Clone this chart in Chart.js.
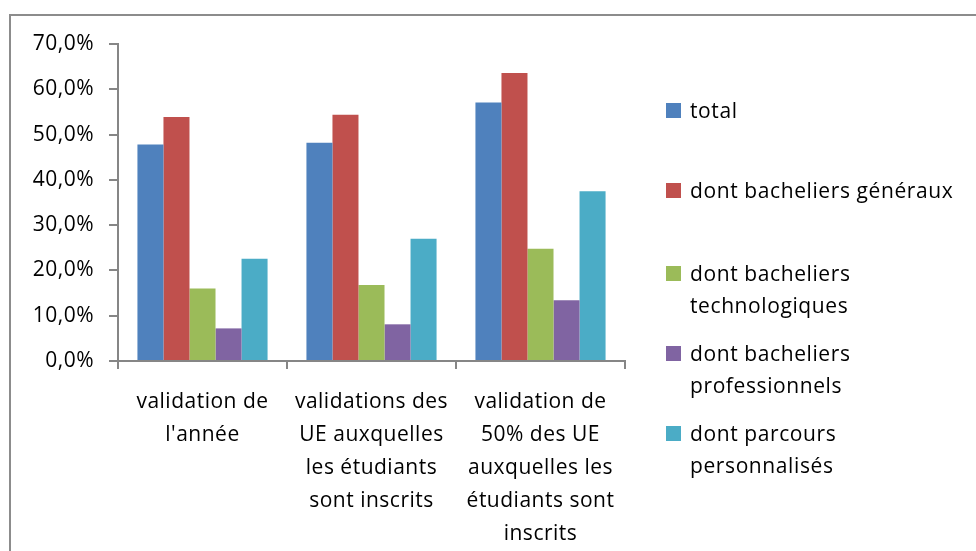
<!DOCTYPE html>
<html>
<head>
<meta charset="utf-8">
<script src="https://cdn.jsdelivr.net/npm/chart.js@4/dist/chart.umd.min.js"></script>
<style>
  body { margin: 0; background: #fff; }
  #wrap { position: relative; width: 976px; height: 551px; overflow: hidden; }
  #frame { position: absolute; left: 9px; top: 14px; width: 980px; height: 600px; border: 2px solid #8c8c8c; box-sizing: border-box; }
  #chart { position: absolute; left: 0; top: 0; }
  #legend { position: absolute; left: 666px; top: 0; font-family: "Open Sans", sans-serif; font-size: 21px; letter-spacing: 0.6px; color: #000; }
  .item { position: absolute; left: 0; width: 310px; display: flex; align-items: flex-start; }
  .box { width: 15px; height: 15px; margin-top: 9px; margin-right: 9px; flex: none; }
  .txt { line-height: 32px; width: 284px; }
</style>
</head>
<body>
<div id="wrap">
  <div id="frame"></div>
  <canvas id="chart" width="976" height="551"></canvas>
  <div id="legend"></div>
</div>
<script>
const categories = [
  ['validation de', "l'année"],
  ['validations des', 'UE auxquelles', 'les étudiants', 'sont inscrits'],
  ['validation de', '50% des UE', 'auxquelles les', 'étudiants sont', 'inscrits']
];
const seriesNames = ['total', 'dont bacheliers généraux', 'dont bacheliers technologiques', 'dont bacheliers professionnels', 'dont parcours personnalisés'];
const seriesColors = ['#4F81BD', '#C0504D', '#9BBB59', '#8064A2', '#4BACC6'];
const total = [0.478, 0.482, 0.571];
const generaux = [0.539, 0.544, 0.636];
const technologiques = [0.160, 0.168, 0.248];
const professionnels = [0.072, 0.081, 0.134];
const personnalises = [0.226, 0.270, 0.375];
const yTicks = [0, 0.1, 0.2, 0.3, 0.4, 0.5, 0.6, 0.7];

const seriesValues = [total, generaux, technologiques, professionnels, personnalises];
const axisColor = '#868686';
const font = { family: '"Open Sans", sans-serif', size: 21, lineHeight: 1.57 };

// wider text spacing, like the original office rendering
const spacing = {
  id: 'spacing',
  beforeUpdate: c => { c.ctx.letterSpacing = '0.5px'; },
  beforeDraw: c => { c.ctx.letterSpacing = '0.5px'; }
};

const chart = new Chart(document.getElementById('chart').getContext('2d'), {
  type: 'bar',
  plugins: [spacing],
  data: {
    labels: categories,
    datasets: seriesNames.map((name, i) => ({
      label: name,
      data: seriesValues[i],
      backgroundColor: seriesColors[i],
      borderWidth: 0,
      categoryPercentage: 0.77,
      barPercentage: 1.0
    }))
  },
  options: {
    responsive: false,
    animation: false,
    layout: { padding: { left: 0, top: 44, right: 351, bottom: 0 } },
    plugins: { legend: { display: false }, tooltip: { enabled: false } },
    scales: {
      x: {
        grid: { display: true, drawOnChartArea: false, color: axisColor, lineWidth: 2, tickLength: 8, offset: true },
        border: { display: true, color: axisColor, width: 2 },
        ticks: { font: font, color: '#000', padding: 17, maxRotation: 0, autoSkip: false },
        afterFit: s => { s.height = 190; }
      },
      y: {
        min: 0, max: 0.7,
        afterBuildTicks: s => { s.ticks = yTicks.map(v => ({ value: v })); },
        grid: { display: true, drawOnChartArea: false, color: axisColor, lineWidth: 2, tickLength: 9 },
        border: { display: true, color: axisColor, width: 2 },
        ticks: { font: { family: font.family, size: 21 }, color: '#000', padding: 15, callback: v => (v * 100).toFixed(1).replace('.', ',') + '%' },
        afterFit: s => { s.width = 118; }
      }
    }
  }
});

const legendTops = [94, 174, 257, 337, 417];
const legend = document.getElementById('legend');
seriesNames.forEach((name, i) => {
  const item = document.createElement('div');
  item.className = 'item';
  item.style.top = legendTops[i] + 'px';
  item.innerHTML = '<div class="box" style="background:' + seriesColors[i] + '"></div><div class="txt">' + name + '</div>';
  legend.appendChild(item);
});
</script>
</body>
</html>
